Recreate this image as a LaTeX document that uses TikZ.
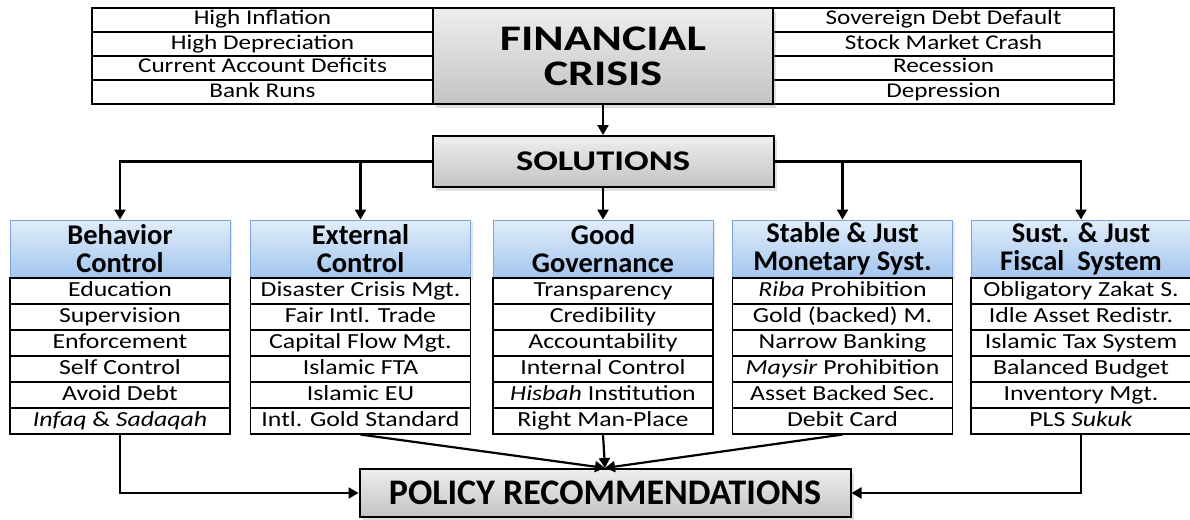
\documentclass[tikz,border=0pt]{standalone}
\usepackage{fontspec}
\setmainfont{Carlito}
\newfontfamily\rowfont{Carlito}[FakeStretch=1.2]
\newfontfamily\widefont{Carlito}[FakeStretch=1.28]
\usetikzlibrary{arrows.meta,positioning,shadows}
\definecolor{headtop}{HTML}{E0EDFA}
\definecolor{headbot}{HTML}{A3C5EE}
\definecolor{headline}{HTML}{7DA4D6}
\definecolor{greytop}{HTML}{EEEEEE}
\definecolor{greybot}{HTML}{C3C3C3}
\definecolor{dark}{HTML}{000000}

\begin{document}
\begin{tikzpicture}[x=1pt, y=-1pt,
    cause/.style={rectangle, draw=dark, line width=1.1pt, fill=white, minimum width=341pt, minimum height=24pt, inner sep=0pt, text height=14pt, text depth=4pt, font=\rowfont\fontsize{21}{22}\selectfont},
    row/.style={rectangle, draw=dark, line width=1.1pt, fill=white, minimum width=220pt, minimum height=26pt, inner sep=0pt, text height=14.5pt, text depth=4.5pt, font=\rowfont\fontsize{21.5}{22}\selectfont},
    head/.style={rectangle, draw=headline, line width=0.9pt, top color=headtop, bottom color=headbot, minimum width=220pt, minimum height=58pt, inner sep=0pt, align=center, font=\bfseries\fontsize{28.5}{28}\selectfont, drop shadow={shadow xshift=2pt, shadow yshift=-2pt, opacity=0.2}},
    greybox/.style={rectangle, draw=dark, line width=2pt, top color=greytop, bottom color=greybot, inner sep=0pt, align=center, drop shadow={shadow xshift=3pt, shadow yshift=-4pt, opacity=0.25}},
    arrow/.style={-{Triangle[length=10pt, width=11pt]}, line width=2.2pt, color=dark}
]
    \useasboundingbox (0,0) rectangle (1190,519);

    % Causes and effects of the crisis
    \foreach \t [count=\i] in {High Inflation, High Depreciation, Current Account Deficits, Bank Runs}
        \node[cause] (cz\i) at (262.5, -4+24*\i) {\t};
    \foreach \t [count=\i] in {Sovereign Debt Default, Stock Market Crash, Recession, Depression}
        \node[cause] (ef\i) at (943.5, -4+24*\i) {\t};

    % Main boxes
    \node[greybox, minimum width=340pt, minimum height=96pt, font=\widefont\bfseries\fontsize{36}{35}\selectfont] (crisis) at (603,56) {FINANCIAL\\CRISIS};
    \node[greybox, minimum width=341pt, minimum height=51pt, font=\widefont\bfseries\fontsize{28.5}{28}\selectfont] (sol) at (603,161.5) {SOLUTIONS};
    \node[greybox, minimum width=491pt, minimum height=48pt, font=\bfseries\fontsize{36}{36}\selectfont] (pr) at (605,493) {POLICY RECOMMENDATIONS};

    % Solution columns
    \node[head] (bc) at (120,249) {Behavior\\Control};
    \node[head] (ec) at (360.5,249) {External\\Control};
    \node[head] (gg) at (603,249) {Good\\Governance};
    \node[head] (ms) at (842.5,249) {Stable \& Just\\Monetary Syst.};
    \node[head] (fs) at (1081,249) {Sust. \& Just\\Fiscal\ \ System};

    \foreach \t [count=\i] in {Education, Supervision, Enforcement, Self Control, Avoid Debt, {\textit{Infaq} \& \textit{Sadaqah}}}
        \node[row] (bc\i) at (120, 265+26*\i) {\t};
    \foreach \t [count=\i] in {Disaster Crisis Mgt., Fair Intl. Trade, Capital Flow Mgt., Islamic FTA, Islamic EU, Intl. Gold Standard}
        \node[row] (ec\i) at (360.5, 265+26*\i) {\t};
    \foreach \t [count=\i] in {Transparency, Credibility, Accountability, Internal Control, {\textit{Hisbah} Institution}, Right Man-Place}
        \node[row] (gg\i) at (603, 265+26*\i) {\t};
    \foreach \t [count=\i] in {{\textit{Riba} Prohibition}, Gold (backed) M., Narrow Banking, {\textit{Maysir} Prohibition}, Asset Backed Sec., Debit Card}
        \node[row] (ms\i) at (842.5, 265+26*\i) {\t};
    \foreach \t [count=\i] in {Obligatory Zakat S., Idle Asset Redistr., Islamic Tax System, Balanced Budget, Inventory Mgt., {PLS \textit{Sukuk}}}
        \node[row] (fs\i) at (1081, 265+26*\i) {\t};

    % Arrows
    \draw[arrow] (crisis) -- (sol);
    \draw[arrow] (sol.west) -| (bc.north);
    \draw[arrow] (sol.west) -| (ec.north);
    \draw[arrow] (sol) -- (gg);
    \draw[arrow] (sol.east) -| (ms.north);
    \draw[arrow] (sol.east) -| (fs.north);
    \draw[arrow] (bc6.south) |- (pr.west);
    \draw[arrow] (fs6.south) |- (pr.east);
    \draw[arrow] (ec6.south) -- (pr.north);
    \draw[arrow] (gg6.south) -- (pr.north);
    \draw[arrow] (ms6.south) -- (pr.north);
\end{tikzpicture}
\end{document}
